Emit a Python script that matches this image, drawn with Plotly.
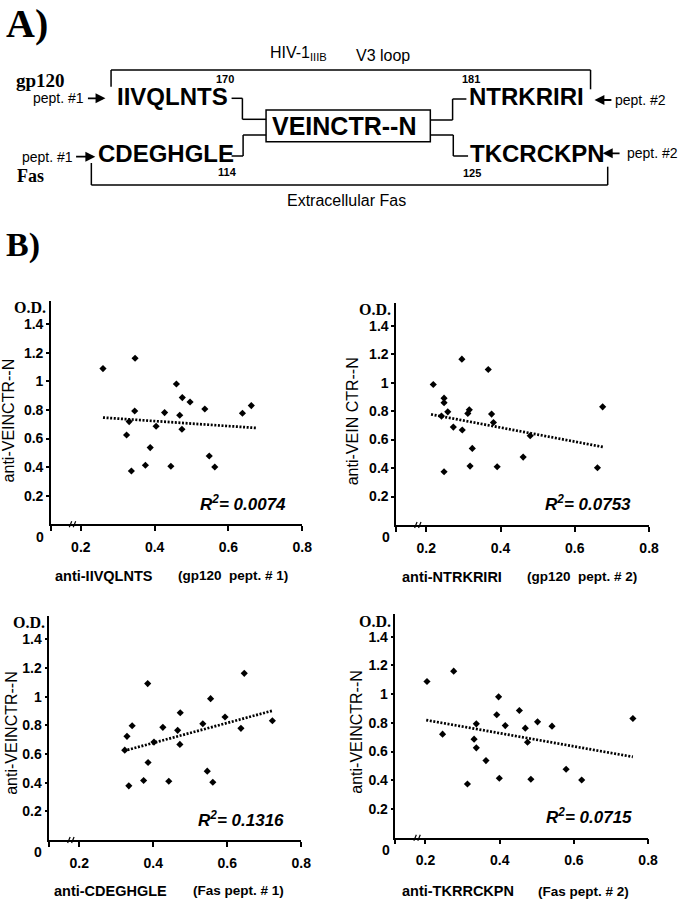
import plotly.graph_objects as go

W, H = 685, 899
SANS = "Liberation Sans, Arial, sans-serif"
SERIF = "Liberation Serif, Times New Roman, serif"

# ---------------- data ----------------
# Panel 1: anti-IIVQLNTS (gp120 pept. #1) vs anti-VEINCTR--N
p1_x = [0.260, 0.347, 0.346, 0.331, 0.324, 0.337, 0.375, 0.388, 0.404, 0.427, 0.444,
        0.459, 0.468, 0.475, 0.474, 0.496, 0.536, 0.548, 0.563, 0.638, 0.662]
p1_y = [1.090, 1.162, 0.793, 0.719, 0.625, 0.373, 0.413, 0.537, 0.686, 0.782, 0.406,
        0.982, 0.763, 0.887, 0.665, 0.856, 0.807, 0.478, 0.401, 0.777, 0.831]
p1_trend_x = [0.260, 0.677]
p1_trend_y = [0.747, 0.674]

# Panel 2: anti-NTRKRIRI (gp120 pept. #2) vs anti-VEIN CTR--N
p2_x = [0.219, 0.296, 0.367, 0.248, 0.248, 0.258, 0.241, 0.316, 0.312, 0.273, 0.297,
        0.376, 0.381, 0.324, 0.248, 0.318, 0.391, 0.461, 0.480, 0.661, 0.675]
p2_y = [0.987, 1.165, 1.092, 0.891, 0.859, 0.795, 0.765, 0.809, 0.784, 0.688, 0.667,
        0.779, 0.720, 0.538, 0.374, 0.414, 0.409, 0.477, 0.627, 0.402, 0.830]
p2_trend_x = [0.213, 0.678]
p2_trend_y = [0.777, 0.547]

# Panel 3: anti-CDEGHGLE (Fas pept. #1) vs anti-VEINCTR--N
p3_x = [0.385, 0.646, 0.555, 0.473, 0.594, 0.534, 0.722, 0.637, 0.343, 0.426, 0.466,
        0.329, 0.402, 0.472, 0.323, 0.386, 0.334, 0.374, 0.442, 0.546, 0.561]
p3_y = [1.091, 1.163, 0.986, 0.888, 0.858, 0.811, 0.832, 0.779, 0.797, 0.786, 0.765,
        0.723, 0.683, 0.667, 0.627, 0.541, 0.378, 0.415, 0.410, 0.480, 0.403]
p3_trend_x = [0.321, 0.722]
p3_trend_y = [0.622, 0.902]

# Panel 4: anti-TKRRCKPN (Fas pept. #2) vs anti-VEINCTR--N
p4_x = [0.204, 0.276, 0.397, 0.453, 0.392, 0.502, 0.337, 0.415, 0.469, 0.541, 0.759,
        0.246, 0.331, 0.475, 0.337, 0.363, 0.313, 0.399, 0.484, 0.579, 0.621]
p4_y = [1.088, 1.160, 0.981, 0.886, 0.856, 0.807, 0.793, 0.781, 0.763, 0.777, 0.830,
        0.721, 0.686, 0.665, 0.626, 0.537, 0.374, 0.414, 0.407, 0.477, 0.402]
p4_trend_x = [0.202, 0.759]
p4_trend_y = [0.819, 0.563]

r2_labels = ["0.0074", "0.0753", "0.1316", "0.0715"]
x_tick_vals = [0.2, 0.4, 0.6, 0.8]
x_tick_text = ["0.2", "0.4", "0.6", "0.8"]
y_tick_vals = [0.2, 0.4, 0.6, 0.8, 1.0, 1.2, 1.4]
y_tick_text = ["0.2", "0.4", "0.6", "0.8", "1", "1.2", "1.4"]
y_titles = ["anti-VEINCTR--N", "anti-VEIN CTR--N", "anti-VEINCTR--N", "anti-VEINCTR--N"]
x_titles = ["anti-IIVQLNTS", "anti-NTRKRIRI", "anti-CDEGHGLE", "anti-TKRRCKPN"]
x_subtitles = ["(gp120\u00a0\u00a0pept. # 1)", "(gp120\u00a0\u00a0pept. # 2)",
               "(Fas pept. # 1)", "(Fas pept. # 2)"]

X_MIN, X_MAX = 0.119, 0.8
Y_MIN, Y_MAX = 0.0, 1.56
BREAK_X = 0.178

# ---------------- layout geometry (pixels) ----------------
# (left, right, top, bottom) of each plot area
doms = [(51.7, 306.7, 301.4, 524.3),
        (402.0, 658.7, 302.9, 525.0),
        (50.0, 305.7, 616.4, 840.0),
        (401.3, 657.7, 613.7, 837.7)]

fig = go.Figure()


def txt(x, y, s, size, family=SANS, bold=False, italic=False,
        xanchor="center", yanchor="middle", angle=0):
    fig.add_annotation(x=x / W, y=1 - y / H, xref="paper", yref="paper", text=s,
                       showarrow=False, xanchor=xanchor, yanchor=yanchor,
                       textangle=angle, borderpad=0,
                       font=dict(family=family, size=size, color="black",
                                 weight="bold" if bold else "normal",
                                 style="italic" if italic else "normal"))


def seg(x0, y0, x1, y1, w=1.5):
    fig.add_shape(type="line", xref="paper", yref="paper",
                  x0=x0 / W, y0=1 - y0 / H, x1=x1 / W, y1=1 - y1 / H,
                  line=dict(color="black", width=w))


def arrow(tip_x, tail_x, y):
    fig.add_annotation(x=tip_x / W, y=1 - y / H, xref="paper", yref="paper",
                       ax=tail_x - tip_x, ay=0, text="", showarrow=True,
                       arrowhead=2, arrowsize=1.1, arrowwidth=1.8,
                       arrowcolor="black")


series = [(p1_x, p1_y, p1_trend_x, p1_trend_y),
          (p2_x, p2_y, p2_trend_x, p2_trend_y),
          (p3_x, p3_y, p3_trend_x, p3_trend_y),
          (p4_x, p4_y, p4_trend_x, p4_trend_y)]

for i, ((sx, sy, tx, ty), (l, r, t, b)) in enumerate(zip(series, doms)):
    n = "" if i == 0 else str(i + 1)
    fig.add_trace(go.Scatter(x=sx, y=sy, mode="markers", xaxis="x" + n, yaxis="y" + n,
                             marker=dict(symbol="diamond", size=5.5, color="black"),
                             showlegend=False, hoverinfo="skip"))
    fig.add_trace(go.Scatter(x=tx, y=ty, mode="lines", xaxis="x" + n, yaxis="y" + n,
                             line=dict(color="black", width=2.7, dash="2px,1.6px"),
                             showlegend=False, hoverinfo="skip"))
    fig.layout["xaxis" + n] = dict(
        domain=[l / W, r / W], range=[X_MIN, X_MAX], anchor="y" + n,
        showline=True, linecolor="black", linewidth=1.5,
        ticks="outside", ticklen=5, tickwidth=1.5, tickcolor="black",
        tickvals=[X_MIN] + x_tick_vals, ticktext=[""] + x_tick_text,
        ticklabelstandoff=4,
        tickfont=dict(family=SANS, size=14, color="black", weight="bold"),
        showgrid=False, zeroline=False, fixedrange=True)
    fig.layout["yaxis" + n] = dict(
        domain=[1 - b / H, 1 - t / H], range=[Y_MIN, Y_MAX], anchor="x" + n,
        showline=True, linecolor="black", linewidth=1.5,
        ticks="outside", ticklen=3, tickwidth=1.5, tickcolor="black",
        tickvals=y_tick_vals, ticktext=y_tick_text,
        tickfont=dict(family=SANS, size=14, color="black", weight="bold"),
        showgrid=False, zeroline=False, fixedrange=True)

    # axis break marks "//" on the x axis
    bx = l + (BREAK_X - X_MIN) / (X_MAX - X_MIN) * (r - l)
    seg(bx - 3.5, b + 3, bx - 1.0, b - 3, w=1.2)
    seg(bx + 0.5, b + 3, bx + 3.0, b - 3, w=1.2)

# panel texts
od_pos = [(13, 307), (363, 309), (12, 622.5), (363, 621)]
ytitle_pos = [(8.5, 420), (357.5, 421), (11, 733), (361, 732)]
xtitle_pos = [(55, 575.7, 180), (406.7, 576.7, 533.3), (53.3, 890.5, 195), (406.7, 891, 545)]
zero_pos = [(40.3, 537), (391.7, 537), (39, 851.7), (391.7, 850)]
r2_pos = [(246.7, 502.7), (597, 503.3), (245, 819), (597.5, 816)]

for i in range(4):
    txt(od_pos[i][0], od_pos[i][1], "O.D.", 16, family=SERIF, bold=True, xanchor="left")
    txt(ytitle_pos[i][0], ytitle_pos[i][1], y_titles[i], 16, angle=-90)
    txt(xtitle_pos[i][0], xtitle_pos[i][1], x_titles[i], 14.5, bold=True, xanchor="left")
    txt(xtitle_pos[i][2], xtitle_pos[i][1], x_subtitles[i], 13.5, bold=True, xanchor="left")
    txt(zero_pos[i][0], zero_pos[i][1], "0", 14, bold=True)
    txt(r2_pos[i][0], r2_pos[i][1], "R<sup>2</sup>= " + r2_labels[i], 17, bold=True, italic=True)

# ---------------- section A diagram ----------------
txt(5, 23, "A)", 40, family=SERIF, bold=True, xanchor="left")
txt(5, 245, "B)", 34, family=SERIF, bold=True, xanchor="left")

txt(273, 54, "HIV-1<sub>IIIB</sub>", 16, xanchor="left")
txt(360, 55, "V3 loop", 16, xanchor="left")
txt(15, 81, "gp120", 19, family=SERIF, bold=True, xanchor="left")
txt(16.7, 176, "Fas", 18, family=SERIF, bold=True, xanchor="left")

txt(228, 79, "170", 11, bold=True)
txt(478, 79, "181", 11, bold=True)
txt(231, 172, "114", 11, bold=True)
txt(479, 173, "125", 11, bold=True)

txt(118, 96, "IIVQLNTS", 24, bold=True, xanchor="left")
txt(475, 97, "NTRKRIRI", 24, bold=True, xanchor="left")
txt(98.3, 154, "CDEGHGLE", 24, bold=True, xanchor="left")
txt(476, 154, "TKCRCKPN", 24, bold=True, xanchor="left")
txt(349, 126, "VEINCTR--N", 25, bold=True)

txt(86.7, 98.3, "pept. #1", 14, xanchor="right")
arrow(107, 88, 98.3)
txt(75, 156.7, "pept. #1", 14, xanchor="right")
arrow(96.7, 76, 156.7)
txt(623.3, 100, "pept. #2", 14, xanchor="left")
arrow(603.3, 621.7, 100)
txt(635, 153.3, "pept. #2", 14, xanchor="left")
arrow(611.7, 630, 153.3)

txt(351.5, 200, "Extracellular Fas", 16)

# brackets
seg(112.7, 86.7, 112.7, 70)
seg(112.7, 70, 599.3, 70)
seg(599.3, 70, 599.3, 89.3)
seg(92.7, 163, 92.7, 185)
seg(92.7, 185, 616.7, 185)
seg(616.7, 185, 616.7, 166.7)

# box
fig.add_shape(type="rect", xref="paper", yref="paper",
              x0=270 / W, x1=436.7 / W, y0=1 - 141.7 / H, y1=1 - 110 / H,
              line=dict(color="black", width=1.5))

# connectors
seg(235, 98.3, 246, 98.3)
seg(246, 98.3, 246, 119.3)
seg(246, 119.3, 270, 119.3)
seg(270, 135, 246.7, 135)
seg(246.7, 135, 246.7, 156)
seg(246.7, 156, 235, 156)
seg(436.7, 120, 459.3, 120)
seg(459.3, 120, 459.3, 99)
seg(459.3, 99, 473.3, 99)
seg(436.7, 135, 460, 135)
seg(460, 135, 460, 156)
seg(460, 156, 475, 156)

fig.update_layout(width=W, height=H, margin=dict(l=0, r=0, t=0, b=0),
                  paper_bgcolor="white", plot_bgcolor="white",
                  font=dict(family=SANS, color="black"), showlegend=False)

fig.write_html("out.html", config={"displayModeBar": False},
               post_script="document.body.style.margin='0';"
                           "document.body.style.overflow='hidden';")
